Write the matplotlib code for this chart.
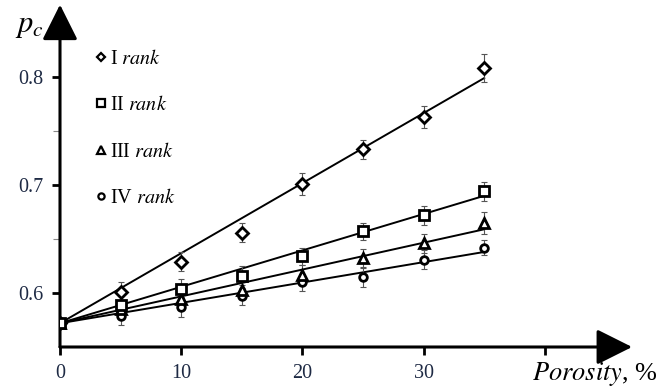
import matplotlib
matplotlib.use("Agg")
import matplotlib.pyplot as plt
from matplotlib.lines import Line2D

plt.rcParams['font.family'] = ['Liberation Serif', 'DejaVu Serif']
plt.rcParams['mathtext.fontset'] = 'stix'

# porosity, %
porosity = [0, 5, 10, 15, 20, 25, 30, 35]

# measured p_c for each rank
rank1 = [0.572, 0.601, 0.629, 0.656, 0.701, 0.733, 0.763, 0.808]
rank2 = [0.572, 0.589, 0.604, 0.616, 0.634, 0.657, 0.672, 0.694]
rank3 = [0.572, 0.585, 0.594, 0.603, 0.617, 0.632, 0.646, 0.665]
rank4 = [0.572, 0.579, 0.587, 0.597, 0.610, 0.615, 0.631, 0.642]
err1 = [0, 0.009, 0.009, 0.009, 0.010, 0.009, 0.010, 0.013]
err2 = [0, 0.008, 0.009, 0.009, 0.008, 0.008, 0.009, 0.009]
err3 = [0, 0.008, 0.008, 0.009, 0.009, 0.009, 0.009, 0.010]
err4 = [0, 0.009, 0.009, 0.008, 0.008, 0.009, 0.009, 0.007]

# linear fits (start / end)
fit_x = [0, 35]
fit1 = [0.572, 0.799]
fit2 = [0.572, 0.690]
fit3 = [0.572, 0.659]
fit4 = [0.572, 0.638]

labels = ['I', 'II', 'III', 'IV']
xtick_labels = ['0', '10', '20', '30', '']
markers = ['D', 's', '^', 'o']
msizes = [6, 7.5, 7.5, 5.5]

series = [rank1, rank2, rank3, rank4]
errs = [err1, err2, err3, err4]
fits = [fit1, fit2, fit3, fit4]

fig = plt.figure(figsize=(6.72, 3.87), dpi=100)
ax = fig.add_axes([60/672, 40/387, 48*12.12/672, 0.32*1080/387])
ax.set_xlim(0, 48)
ax.set_ylim(0.55, 0.87)

for f in fits:
    ax.plot(fit_x, f, color='k', lw=1.4, zorder=2)

order = [3, 2, 0, 1]  # square on top at origin
for i in order:
    ax.errorbar(porosity, series[i], yerr=errs[i], fmt='none', ecolor='#555555',
                elinewidth=0.8, capsize=2.5, capthick=0.8, zorder=3)
    ax.plot(porosity, series[i], linestyle='none', marker=markers[i], ms=msizes[i],
            mfc='white', mec='k', mew=2.0, zorder=4 + order.index(i))

for s in ax.spines.values():
    s.set_visible(False)

ax.annotate('', xy=(47.2, 0.55), xytext=(0, 0.55), annotation_clip=False,
            arrowprops=dict(arrowstyle='-|>,head_length=1.1,head_width=0.55',
                            lw=2.2, color='k', shrinkA=0, shrinkB=0, mutation_scale=20))
ax.annotate('', xy=(0, 0.867), xytext=(0, 0.55), annotation_clip=False,
            arrowprops=dict(arrowstyle='-|>,head_length=1.1,head_width=0.55',
                            lw=2.2, color='k', shrinkA=0, shrinkB=0, mutation_scale=20))

ax.set_xticks([0, 10, 20, 30, 40])
ax.set_xticklabels(xtick_labels)
ax.set_yticks([0.6, 0.7, 0.8])
ax.set_yticks([0.65, 0.75], minor=True)
ax.tick_params(which='major', direction='out', length=6, width=2.0, labelsize=14.5,
               labelcolor='#1e2a44', pad=6)
ax.tick_params(which='minor', direction='out', length=5, width=0.8, color='#888888')
ax.tick_params(axis='x', pad=6)

handles = [Line2D([], [], linestyle='none', marker=markers[i], ms=[4.5, 6, 6, 4.5][i],
                  mfc='white', mec='k', mew=1.6) for i in range(4)]
ax.legend(handles, [lab + r' $\mathit{rank}$' for lab in labels],
          loc='upper left', bbox_to_anchor=(86/672, 1 - 40/387),
          bbox_transform=fig.transFigure, frameon=False, fontsize=14.5,
          handlelength=0.5, handletextpad=0.2, labelspacing=1.35, borderpad=0)

fig.text(15/672, 1 - 26/387, r'$p_c$', fontsize=22, va='center', ha='left')
fig.text(658/672, 1 - 374/387, r'$\mathit{Porosity}$, %', fontsize=19,
         va='center', ha='right')

fig.savefig('out.png', dpi=100)
